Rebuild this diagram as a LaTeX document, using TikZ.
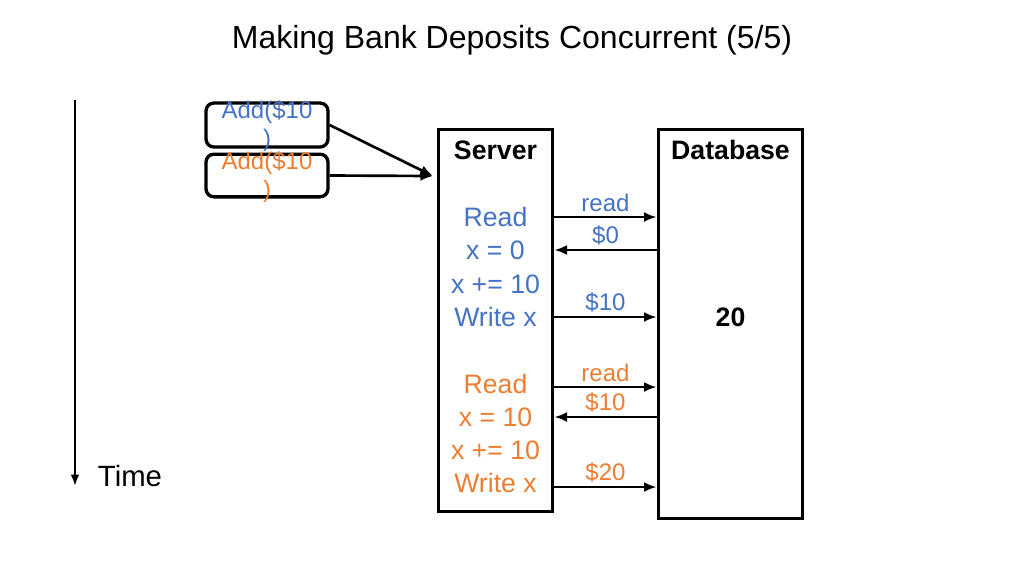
\documentclass[tikz,border=0pt]{standalone}
\usepackage{fontspec}
\setmainfont{Liberation Sans}
\usetikzlibrary{arrows.meta}
\definecolor{ppblue}{HTML}{4472C4}
\definecolor{pporange}{HTML}{ED7D31}
\begin{document}
\begin{tikzpicture}[x=0.75pt,y=-0.75pt,
		block/.style={draw,line width=2.25pt,inner sep=0pt},
		addbox/.style={block,line width=2.5pt,rounded corners=6pt,minimum width=91.5pt,minimum height=33pt},
		step text/.style={font=\fontsize{20}{24}\selectfont,inner sep=0pt},
		msg/.style={font=\fontsize{18}{21}\selectfont,above,inner sep=3pt},
		link/.style={-{Latex[length=9.5pt,width=7.5pt]},line width=2pt}]
	\useasboundingbox (0,0) rectangle (1024,576);
	
	\node[font=\fontsize{24}{28}\selectfont] (title) at (512,40) {Making Bank Deposits Concurrent (5/5)};
	
	% time axis
	\coordinate (t0) at (75,100);
	\coordinate (t1) at (75,486);
	\draw[-{Latex[length=8.5pt,width=6.5pt]},line width=1.6pt] (t0) -- (t1);
	\node[font=\fontsize{22}{26}\selectfont] (time) at (130,476) {Time};
	
	% requests
	\node[addbox] (addA) at (267,125) {};
	\node[addbox,minimum height=32pt] (addB) at (267,175.5) {};
	\node[ppblue,align=center,font=\fontsize{18}{21}\selectfont,inner sep=0pt] (addAtxt) at (267,126) {Add(\$10\\)};
	\node[pporange,align=center,font=\fontsize{18}{21}\selectfont,inner sep=0pt] (addBtxt) at (267,177) {Add(\$10\\)};
	\coordinate (join) at (433,176);
	\draw[link] (addA.east) -- (join);
	\draw[link] (addB.east) -- (join);
	
	% server and database
	\node[block,minimum width=86pt,minimum height=287pt] (server) at (495.5,320.5) {};
	\node[block,minimum width=108.5pt,minimum height=292pt] (db) at (730.5,324) {};
	\node[font=\bfseries\fontsize{20}{24}\selectfont] (srvname) at (495.5,150) {Server};
	\node[font=\bfseries\fontsize{20}{24}\selectfont] (dbname) at (730.5,150) {Database};
	\node[font=\bfseries\fontsize{20}{24}\selectfont] (dbval) at (730.5,317) {20};
	
	\node[step text,ppblue] (rdA) at (495.5,217) {Read};
	\node[step text,ppblue] (xA) at (495.5,250) {x = 0};
	\node[step text,ppblue] (addxA) at (495.5,284) {x += 10};
	\node[step text,ppblue] (wrA) at (495.5,317) {Write x};
	
	\node[step text,pporange] (rdB) at (495.5,384) {Read};
	\node[step text,pporange] (xB) at (495.5,417) {x = 10};
	\node[step text,pporange] (addxB) at (495.5,450) {x += 10};
	\node[step text,pporange] (wrB) at (495.5,483) {Write x};
	
	\draw[link] (server.east |- rdA) -- (db.west |- rdA) node[msg,midway,ppblue]{read};
	\draw[link] (db.west |- xA) -- (server.east |- xA) node[msg,midway,ppblue]{\$0};
	\draw[link] (server.east |- wrA) -- (db.west |- wrA) node[msg,midway,ppblue]{\$10};
	
	\draw[link] ([yshift=-2.25pt]server.east |- rdB) -- ([yshift=-2.25pt]db.west |- rdB) node[msg,midway,pporange]{read};
	\draw[link] (db.west |- xB) -- (server.east |- xB) node[msg,midway,pporange]{\$10};
	\draw[link] ([yshift=-3pt]server.east |- wrB) -- ([yshift=-3pt]db.west |- wrB) node[msg,midway,pporange]{\$20};
\end{tikzpicture}
\end{document}
